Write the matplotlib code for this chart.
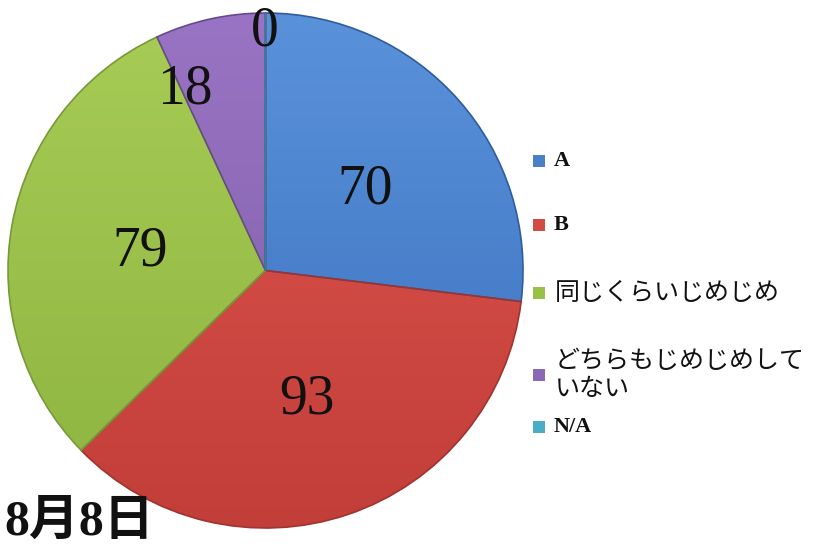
import numpy as np
import matplotlib
matplotlib.use("Agg")
import matplotlib.pyplot as plt
from matplotlib.colors import LinearSegmentedColormap

categories = ["A", "B", "同じくらいじめじめ", "どちらもじめじめして\nいない", "N/A"]
values = [70, 93, 79, 18, 0]
value_labels = ["70", "93", "79", "18", "0"]
title = "8月8日"

top_colors = ["#5a92da", "#e0564f", "#a8cc56", "#9a74c4", "#5bbcd6"]
bot_colors = ["#3a6fbd", "#c23e39", "#8db43f", "#7c5ca8", "#3f9ab4"]
mid_colors = ["#4a80c8", "#d24a44", "#9bc048", "#8b68b6", "#4bacc6"]
edge_colors = ["#2f5c9e", "#9e3330", "#76993a", "#654b8c", "#357f94"]

fig = plt.figure(figsize=(8.25, 5.49), dpi=100)
ax = fig.add_axes([0, 0, 1, 1])

cx, cy, r = 265.5, 549 - 270.5, 257.5
wedges, _ = ax.pie(values, center=(cx, cy), radius=r, startangle=90, counterclock=False,
                   colors=mid_colors, frame=True,
                   wedgeprops=dict(linewidth=1.2))
ax.set_xlim(0, 825)
ax.set_ylim(0, 549)
ax.set_aspect("equal")
ax.axis("off")

grad = np.linspace(0, 1, 256).reshape(-1, 1)
for w, tc, bc, ec in zip(wedges, top_colors, bot_colors, edge_colors):
    w.set_edgecolor(ec)
    cmap = LinearSegmentedColormap.from_list("g", [bc, tc])
    im = ax.imshow(grad, cmap=cmap, extent=(cx - r, cx + r, cy - r, cy + r),
                   origin="lower", aspect="auto", zorder=w.get_zorder() + 0.1)
    im.set_clip_path(w)
    w.set_facecolor("none")
    w.set_zorder(w.get_zorder() + 0.2)
ax.set_xlim(0, 825)
ax.set_ylim(0, 549)

# value labels
label_pos = [(365, 189), (307, 400), (140, 251), (185, 90), (265, 31)]
for txt, (x, y) in zip(value_labels, label_pos):
    ax.text(x, 549 - y, txt, fontsize=40, family=["Liberation Serif", "DejaVu Serif"],
            ha="center", va="center", color="#111111", zorder=10)

# legend (manual)
leg_y = [161, 225, 293, 375, 427]
for cat, col, y in zip(categories, mid_colors, leg_y):
    ax.scatter([539], [549 - y], marker="s", s=65, color=col, edgecolors="none", zorder=10)
    if cat.isascii():
        ax.text(554, 549 - y, cat, fontsize=16, fontweight="bold",
                family=["Liberation Serif", "DejaVu Serif"],
                ha="left", va="center", color="#111111", zorder=10)
    else:
        ax.text(555, 549 - y, cat, fontsize=18, family=["Noto Sans CJK JP", "DejaVu Sans"],
                ha="left", va="center", color="#111111", linespacing=1.1, zorder=10)

ax.text(4, 549 - 523, title, fontsize=36, fontweight="bold",
        family=["Liberation Serif", "Noto Sans CJK JP"],
        ha="left", va="center", color="#111111", zorder=10)

fig.savefig("out.png", dpi=100, facecolor="white")
